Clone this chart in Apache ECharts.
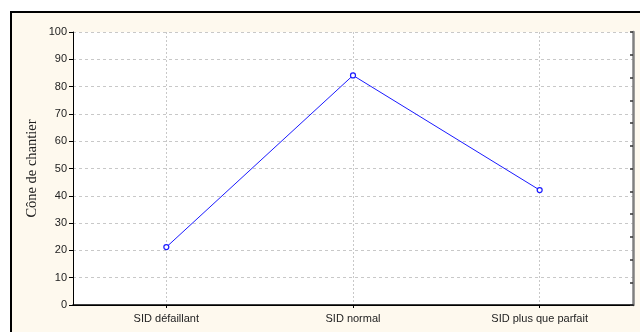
<!DOCTYPE html>
<html><head><meta charset="utf-8">
<script src="https://cdn.jsdelivr.net/npm/echarts@6/dist/echarts.min.js"></script>
<style>html,body{margin:0;padding:0;background:#fff}#c{width:640px;height:332px}</style>
</head><body><div id="c"></div>
<script>
const categories = ['SID défaillant', 'SID normal', 'SID plus que parfait'];
const values = [21.2, 84.1, 42.1];
const yTicks = [0, 10, 20, 30, 40, 50, 60, 70, 80, 90, 100];
const yName = 'Cône de chantier';

const chart = echarts.init(document.getElementById('c'), null, {renderer: 'canvas'});
const labelFont = {fontFamily: 'Liberation Sans, Arial', fontSize: 11, color: '#222'};
chart.setOption({
  animation: false,
  backgroundColor: '#fff',
  graphic: [{
    type: 'rect', z: -10, silent: true,
    shape: {x: 11, y: 12, width: 640, height: 340},
    style: {fill: '#FEF9EE', stroke: '#000', lineWidth: 2}
  }],
  grid: {left: 73, top: 32, right: 7, bottom: 27, show: true, backgroundColor: '#fff', borderWidth: 0},
  xAxis: [{
    type: 'category', data: categories, position: 'bottom', boundaryGap: true,
    axisLine: {lineStyle: {color: '#000', width: 1}},
    axisTick: {show: true, alignWithLabel: true, length: 3, lineStyle: {color: '#000'}},
    axisLabel: Object.assign({margin: 8}, labelFont),
    splitLine: {show: true, alignWithLabel: true, lineStyle: {color: '#c8c8c8', type: [2, 2]}}
  }, {
    type: 'category', data: categories, position: 'top', boundaryGap: true,
    axisLine: {lineStyle: {color: '#000', width: 1.5}},
    axisTick: {show: true, inside: true, alignWithLabel: true, length: 3, lineStyle: {color: '#000'}},
    axisLabel: {show: false}, splitLine: {show: false}
  }],
  yAxis: [{
    type: 'value', min: yTicks[0], max: yTicks[yTicks.length - 1], interval: 10, position: 'left',
    name: yName, nameLocation: 'middle', nameGap: 33, nameMoveOverlap: false,
    nameTextStyle: {fontFamily: 'Liberation Serif, Times New Roman', fontSize: 14.5, color: '#222'},
    axisLine: {show: true, lineStyle: {color: '#000', width: 1}},
    axisTick: {show: true, length: 4, lineStyle: {color: '#000'}},
    axisLabel: Object.assign({margin: 6}, labelFont),
    splitLine: {show: true, lineStyle: {color: '#c8c8c8', type: [3, 3]}}
  }, {
    type: 'value', min: 0, max: 12, interval: 1, position: 'right',
    axisLine: {show: true, lineStyle: {color: '#808080', width: 2.5}},
    axisTick: {show: true, inside: true, length: 3, lineStyle: {color: '#333', width: 1.5}},
    axisLabel: {show: false}, splitLine: {show: false}
  }],
  series: [{
    type: 'line', data: values, xAxisIndex: 0, yAxisIndex: 0,
    symbol: 'circle', symbolSize: 5, showSymbol: true,
    lineStyle: {color: '#1a1aff', width: 1},
    itemStyle: {color: '#fff', borderColor: '#1a1aff', borderWidth: 1.2}
  }]
});
</script></body></html>
